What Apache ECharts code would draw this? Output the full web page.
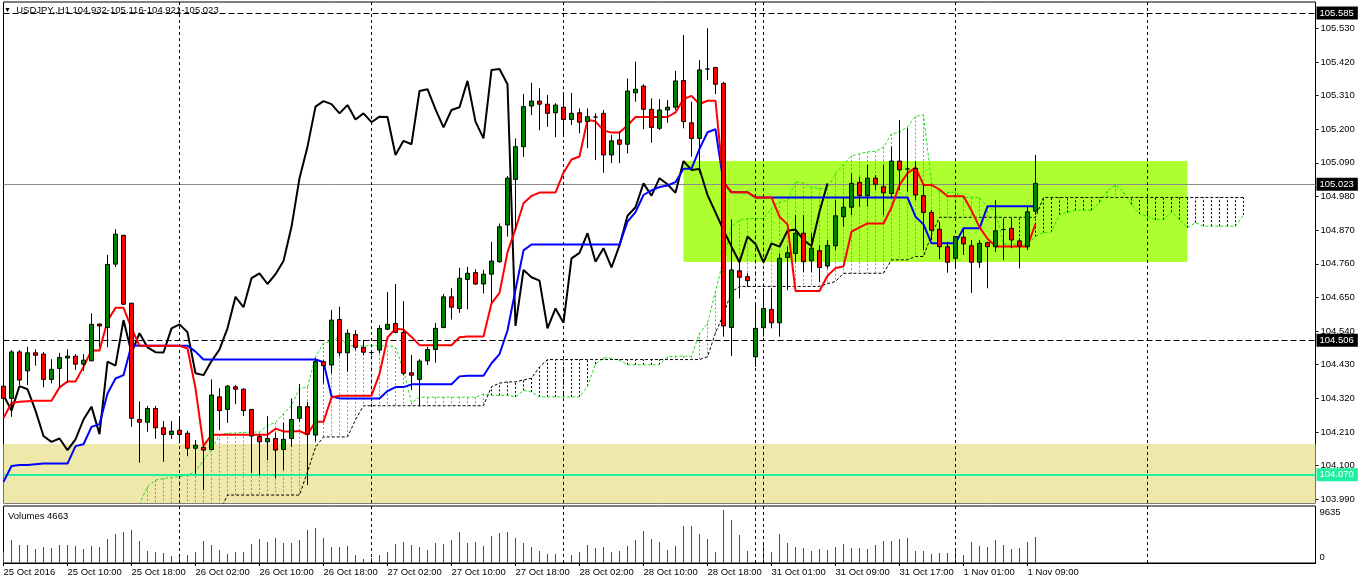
<!DOCTYPE html>
<html>
<head>
<meta charset="utf-8">
<title>USDJPY,H1</title>
<script src="https://cdn.jsdelivr.net/npm/echarts@6/dist/echarts.min.js"></script>
<style>
  html, body { margin: 0; padding: 0; background: #fff; }
  #main { width: 1358px; height: 584px; }
</style>
</head>
<body>
<div id="main"></div>
<script>
// time axis labels, one every 8 bars (H1)
var tickLabels = ['25 Oct 2016', '25 Oct 10:00', '25 Oct 18:00', '26 Oct 02:00', '26 Oct 10:00',
  '26 Oct 18:00', '27 Oct 02:00', '27 Oct 10:00', '27 Oct 18:00', '28 Oct 02:00', '28 Oct 10:00',
  '28 Oct 18:00', '31 Oct 01:00', '31 Oct 09:00', '31 Oct 17:00', '1 Nov 01:00', '1 Nov 09:00'];

var opens = [
  104.360,104.320,104.472,104.410,104.469,104.465,104.382,104.418,104.452,104.458,
  104.432,104.443,104.563,104.552,104.759,104.853,104.631,104.251,104.242,104.287,
  104.224,104.202,104.216,104.206,104.157,104.160,104.153,104.325,104.284,104.358,
  104.350,104.284,104.195,104.178,104.189,104.153,104.189,104.255,104.293,104.200,
  104.440,104.429,104.578,104.469,104.529,104.487,104.470,104.478,104.546,104.565,
  104.536,104.404,104.382,104.443,104.480,104.552,104.652,104.614,104.709,104.731,
  104.694,104.726,104.767,104.887,105.036,105.143,105.276,105.292,105.282,105.254,
  105.272,105.232,105.254,105.225,105.240,105.252,105.116,105.165,105.151,105.319,
  105.341,105.265,105.203,105.263,105.272,105.359,105.221,105.170,105.397,105.402,
  105.350,104.552,104.737,104.718,104.456,104.551,104.611,104.567,104.781,104.794,
  104.860,104.770,104.803,104.753,104.819,104.914,104.945,105.026,104.983,105.040,
  105.012,104.990,105.096,105.070,105.072,104.983,104.928,104.873,104.816,104.778,
  104.847,104.819,104.765,104.829,104.816,104.872,104.876,104.835,104.816,104.932];
var highs = [
  104.450,104.478,104.478,104.489,104.480,104.472,104.448,104.469,104.480,104.465,
  104.465,104.598,104.565,104.789,104.873,104.855,104.633,104.310,104.295,104.295,
  104.246,104.246,104.260,104.214,104.184,104.167,104.382,104.353,104.364,104.364,
  104.353,104.285,104.203,104.262,104.208,104.240,104.320,104.367,104.309,104.451,
  104.445,104.609,104.620,104.546,104.543,104.511,104.478,104.560,104.668,104.694,
  104.638,104.462,104.448,104.489,104.567,104.661,104.680,104.747,104.750,104.742,
  104.740,104.832,104.892,105.047,105.170,105.315,105.352,105.334,105.312,105.285,
  105.319,105.319,105.268,105.268,105.252,105.263,105.181,105.192,105.366,105.421,
  105.347,105.301,105.298,105.296,105.391,105.508,105.290,105.426,105.530,105.404,
  105.355,104.905,104.772,104.729,104.633,104.680,104.680,104.794,104.816,104.919,
  104.919,104.860,104.821,104.838,104.969,104.979,105.056,105.045,105.083,105.050,
  105.083,105.143,105.230,105.203,105.094,105.018,104.936,104.898,104.832,104.851,
  104.876,104.838,104.838,104.832,104.969,104.903,104.909,104.844,104.947,105.116];
var lows = [
  104.280,104.260,104.364,104.364,104.427,104.356,104.369,104.358,104.371,104.413,
  104.410,104.441,104.489,104.487,104.750,104.625,104.227,104.110,104.211,104.188,
  104.113,104.188,104.173,104.131,104.073,104.020,104.151,104.216,104.240,104.301,
  104.262,104.077,104.069,104.118,104.059,104.086,104.162,104.244,104.037,104.180,
  104.369,104.402,104.458,104.407,104.478,104.462,104.462,104.467,104.543,104.533,
  104.396,104.347,104.293,104.429,104.437,104.549,104.578,104.600,104.611,104.691,
  104.663,104.633,104.763,104.849,104.870,105.110,105.246,105.197,105.208,105.174,
  105.176,105.214,105.187,105.138,105.099,105.058,105.089,105.089,105.121,105.290,
  105.200,105.156,105.197,105.221,105.263,105.203,105.110,105.056,105.361,105.315,
  104.522,104.458,104.647,104.685,104.423,104.522,104.549,104.522,104.674,104.766,
  104.734,104.734,104.701,104.745,104.805,104.881,104.919,104.947,104.947,105.001,
  104.919,104.975,105.001,104.996,104.968,104.805,104.838,104.775,104.731,104.746,
  104.789,104.665,104.747,104.680,104.799,104.772,104.811,104.745,104.805,104.921];
var closes = [
  104.320,104.472,104.380,104.469,104.461,104.382,104.415,104.454,104.458,104.432,
  104.445,104.562,104.557,104.758,104.857,104.628,104.255,104.242,104.287,104.224,
  104.202,104.213,104.202,104.157,104.167,104.151,104.331,104.280,104.360,104.350,
  104.280,104.197,104.178,104.189,104.151,104.186,104.251,104.293,104.203,104.440,
  104.427,104.576,104.469,104.533,104.487,104.471,104.470,104.549,104.562,104.536,
  104.402,104.396,104.442,104.480,104.549,104.652,104.618,104.713,104.729,104.694,
  104.726,104.769,104.881,105.040,105.143,105.274,105.292,105.282,105.252,105.279,
  105.232,105.252,105.223,105.241,105.240,105.116,105.162,105.151,105.325,105.331,
  105.265,105.206,105.263,105.272,105.358,105.225,105.170,105.394,105.397,105.347,
  104.557,104.740,104.716,104.705,104.549,104.614,104.567,104.778,104.796,104.860,
  104.767,104.811,104.748,104.820,104.917,104.945,105.023,104.983,105.040,105.020,
  104.992,105.096,105.067,105.070,104.985,104.928,104.870,104.816,104.765,104.849,
  104.825,104.765,104.827,104.816,104.868,104.872,104.838,104.818,104.930,105.023];
var volumes = [
  1930,4090,3190,3310,2590,2830,2780,3310,3280,3130,
  2590,3130,2830,4390,5180,5540,6020,4030,2230,1930,
  1880,1320,1080,1500,2050,4030,3310,2410,1690,1930,
  1980,3490,4390,3850,4580,3550,3600,4210,6020,6260,
  4450,2830,2950,3000,1500,780,900,1500,1930,3370,
  3850,3190,2950,2410,3550,3500,4210,5540,3700,3760,
  3130,4940,5360,5660,4580,3670,2950,2230,1690,1650,
  600,1500,1930,3310,2770,2950,2050,2100,3130,4210,
  5840,4390,3850,2410,3130,6620,6740,5300,4390,2050,
  9635,7830,5120,2230,600,3850,1930,5300,3670,2950,
  2770,2230,2590,2410,2950,3490,2770,2740,2590,3310,
  4030,3990,4390,4580,2230,2190,1690,1730,1870,2770,
  1500,3850,3130,2950,4210,3310,2590,2770,3850,4663];

// Ichimoku lines as drawn on the chart
var tenkan = [
  104.256,104.305,104.309,104.311,104.312,104.312,104.312,104.356,104.375,104.375,
  104.423,104.477,104.477,104.573,104.616,104.616,104.550,104.492,104.492,104.492,
  104.492,104.492,104.492,104.483,104.353,104.165,104.201,104.201,104.201,104.201,
  104.201,104.201,104.201,104.201,104.221,104.212,104.212,104.213,104.202,104.244,
  104.244,104.323,104.329,104.329,104.329,104.329,104.329,104.400,104.519,104.548,
  104.545,104.521,104.494,104.494,104.494,104.494,104.494,104.520,104.522,104.522,
  104.522,104.631,104.665,104.798,104.874,104.958,104.982,104.993,104.993,104.993,
  105.058,105.101,105.111,105.231,105.226,105.196,105.189,105.189,105.212,105.240,
  105.240,105.240,105.240,105.240,105.255,105.299,105.309,105.282,105.293,105.293,
  105.026,104.994,104.994,104.994,104.977,104.977,104.977,104.914,104.889,104.671,
  104.671,104.671,104.671,104.721,104.746,104.751,104.865,104.879,104.892,104.892,
  104.892,104.944,105.018,105.056,105.075,105.018,105.018,105.003,104.981,104.981,
  104.981,104.934,104.880,104.842,104.817,104.817,104.817,104.817,104.817,104.891];
var kijun = [
  104.047,104.099,104.102,104.102,104.105,104.107,104.107,104.107,104.107,104.164,
  104.170,104.227,104.236,104.336,104.385,104.396,104.494,104.492,104.492,104.492,
  104.492,104.492,104.492,104.492,104.473,104.447,104.447,104.447,104.447,104.447,
  104.447,104.447,104.447,104.447,104.447,104.447,104.447,104.447,104.447,104.447,
  104.438,104.327,104.320,104.320,104.320,104.320,104.320,104.320,104.344,104.357,
  104.357,104.366,104.366,104.366,104.366,104.366,104.366,104.392,104.394,104.394,
  104.394,104.435,104.465,104.542,104.675,104.804,104.823,104.823,104.823,104.823,
  104.823,104.823,104.823,104.823,104.823,104.823,104.823,104.823,104.898,104.929,
  104.985,105.000,105.011,105.016,105.027,105.071,105.071,105.136,105.190,105.200,
  105.026,104.994,104.994,104.994,104.977,104.977,104.977,104.977,104.977,104.977,
  104.977,104.977,104.977,104.977,104.977,104.977,104.977,104.977,104.977,104.977,
  104.977,104.977,104.977,104.977,104.914,104.889,104.827,104.827,104.827,104.827,
  104.876,104.876,104.876,104.948,104.948,104.948,104.948,104.948,104.948,104.948];
var spanA = [
  null,null,null,null,null,null,null,null,null,null,
  null,null,null,null,null,null,103.930,103.975,104.031,104.053,
  104.058,104.062,104.064,104.069,104.080,104.118,104.152,104.202,104.206,104.207,
  104.209,104.210,104.210,104.232,104.241,104.270,104.297,104.352,104.357,104.455,
  104.501,104.506,104.522,104.492,104.492,104.492,104.492,104.492,104.492,104.488,
  104.413,104.306,104.324,104.324,104.324,104.324,104.324,104.324,104.324,104.324,
  104.334,104.330,104.330,104.330,104.325,104.346,104.341,104.325,104.325,104.325,
  104.325,104.325,104.325,104.360,104.432,104.453,104.451,104.444,104.430,104.430,
  104.430,104.430,104.430,104.456,104.458,104.458,104.458,104.533,104.565,104.670,
  104.775,104.881,104.903,104.908,104.908,104.908,104.941,104.962,104.967,105.027,
  105.025,105.010,105.006,105.006,105.055,105.085,105.113,105.120,105.126,105.128,
  105.141,105.185,105.190,105.209,105.242,105.247,105.026,104.994,104.994,104.994,
  104.977,104.977,104.977,104.946,104.933,104.824,104.824,104.824,104.824,104.849,
  104.862,104.864,104.921,104.928,104.935,104.935,104.935,104.961,104.998,105.017,
  104.995,104.954,104.923,104.915,104.904,104.904,104.929,104.905,104.878,104.895,
  104.883,104.883,104.883,104.883,104.883,104.920];
var spanB = [
  null,null,null,null,null,null,null,null,null,null,
  null,null,null,null,null,null,103.950,103.950,103.950,103.950,
  103.950,103.950,103.950,103.950,103.950,103.950,103.950,103.950,104.004,104.004,
  104.004,104.004,104.004,104.004,104.004,104.004,104.004,104.004,104.080,104.160,
  104.194,104.194,104.194,104.194,104.250,104.296,104.296,104.296,104.296,104.296,
  104.296,104.296,104.296,104.296,104.296,104.296,104.296,104.296,104.296,104.296,
  104.296,104.358,104.370,104.374,104.374,104.380,104.386,104.423,104.447,104.447,
  104.447,104.447,104.447,104.447,104.447,104.447,104.447,104.447,104.447,104.447,
  104.447,104.447,104.447,104.447,104.447,104.447,104.447,104.447,104.456,104.534,
  104.595,104.668,104.686,104.686,104.686,104.686,104.686,104.686,104.686,104.686,
  104.686,104.686,104.686,104.695,104.702,104.729,104.729,104.729,104.729,104.729,
  104.729,104.773,104.773,104.773,104.784,104.784,104.855,104.912,104.912,104.912,
  104.912,104.912,104.912,104.912,104.912,104.912,104.912,104.912,104.912,104.912,
  104.977,104.977,104.977,104.977,104.977,104.977,104.977,104.977,104.977,104.977,
  104.977,104.977,104.977,104.977,104.977,104.977,104.977,104.977,104.977,104.977,
  104.977,104.977,104.977,104.977,104.977,104.977];

// horizontal levels and zones
var levelPrices = [105.585, 105.023, 104.506, 104.070];
var greenZone = { fromBar: 85, toBar: 148, top: 105.096, bottom: 104.766 };
var supportZoneTop = 104.171;
var dayStarts = [22, 46, 70, 94, 95, 119, 143];
var lastBar = { o: '104.932', h: '105.116', l: '104.921', c: '105.023' };

var priceMin = 103.978, priceMax = 105.616;
var FONT = 'Liberation Sans';
var slotCount = 165;   // bars + cloud projection + right margin
var slots = [];
for (var s = 0; s < slotCount; s++) slots.push(String(s));

var candles = opens.map(function (o, i) { return [o, closes[i], lows[i], highs[i]]; });
var chikou = closes.slice(26);   // close shifted 26 bars back
var hatch = [];
spanA.forEach(function (a, i) {
  if (a != null && spanB[i] != null) hatch.push([i, a, spanB[i]]);
});
// volume colour: green when volume rose versus the previous bar
var volData = volumes.map(function (v, i) {
  return [i, v, (i > 0 && v > volumes[i - 1]) ? 1 : 0];
});

function tagFor(p) {
  var green = p === 104.070;
  return {
    yAxis: p,
    lineStyle: green ? { color: '#1ef0a0', width: 2, type: 'solid' }
      : (p === 105.023 ? { color: '#8c8c8c', width: 1, type: 'solid' }
        : { color: '#000', width: 1, type: [6, 3] }),
    label: {
      show: true, position: 'end', distance: 1, formatter: p.toFixed(3),
      color: '#fff', backgroundColor: green ? '#1ef0a0' : '#000',
      padding: [2, 4, 1, 3], fontFamily: FONT, fontSize: 9.5
    }
  };
}
var dayLines = dayStarts.map(function (k) {
  return { xAxis: String(k), lineStyle: { color: '#000', width: 1, type: [3, 3] }, label: { show: false } };
});

var GL = 3.5;   // half-pixel offset keeps 1px marks crisp
var option = {
  animation: false,
  backgroundColor: '#fff',
  textStyle: { fontFamily: FONT },
  title: [
    {
      text: '{i|▼}  USDJPY,,H1 ' + lastBar.o + '-' + lastBar.h + '-' + lastBar.l + '-' + lastBar.c,
      left: 4, top: 5, padding: 0,
      textStyle: { fontSize: 9.5, fontWeight: 'normal', color: '#000', fontFamily: FONT,
        rich: { i: { fontSize: 7, color: '#000' } } }
    },
    {
      text: 'Volumes ' + volumes[volumes.length - 1],
      left: 8, top: 511, padding: 0,
      textStyle: { fontSize: 9.5, fontWeight: 'normal', color: '#000', fontFamily: FONT }
    }
  ],
  grid: [
    { left: GL, width: 1312, top: 2, height: 501, show: true, borderColor: '#000', borderWidth: 1,
      backgroundColor: '#fff', outerBoundsMode: 'none' },
    { left: GL, width: 1312, top: 506, height: 57, show: true, borderColor: '#000', borderWidth: 1,
      backgroundColor: '#fff', outerBoundsMode: 'none' },
    { left: GL, width: 1312, top: 28.3, height: 471, show: false, outerBoundsMode: 'none' }
  ],
  xAxis: [
    { type: 'category', gridIndex: 0, data: slots, boundaryGap: false, show: false },
    {
      type: 'category', gridIndex: 1, data: slots, boundaryGap: false,
      axisLine: { show: true, lineStyle: { color: '#000', width: 1 } },
      axisTick: { show: true, length: 3, lineStyle: { color: '#000' },
        interval: function (i) { return i % 8 === 0 && i / 8 < tickLabels.length; } },
      axisLabel: {
        show: true, align: 'left', margin: 4, color: '#000', fontSize: 9.5, fontFamily: FONT,
        interval: function (i) { return i % 8 === 0 && i / 8 < tickLabels.length; },
        formatter: function (v, i) { return (i % 8 === 0 && i / 8 < tickLabels.length) ? tickLabels[i / 8] : ''; }
      },
      splitLine: { show: false }
    },
    { type: 'category', gridIndex: 2, data: slots, boundaryGap: false, show: false }
  ],
  yAxis: [
    { type: 'value', gridIndex: 0, min: priceMin, max: priceMax, show: false, splitLine: { show: false } },
    {
      type: 'value', gridIndex: 1, min: 0, max: 10300, interval: 9635, position: 'right',
      axisLine: { show: false }, axisTick: { show: false }, splitLine: { show: false },
      axisLabel: {
        show: true, margin: 4, color: '#000', fontSize: 9.5, fontFamily: FONT,
        formatter: function (v) {
          if (v === 9635) return '{t|9635}';
          if (v === 0) return '{b|0}';
          return '';
        },
        rich: {
          t: { fontSize: 9.5, fontFamily: FONT, color: '#000', padding: [6, 0, 0, 0] },
          b: { fontSize: 9.5, fontFamily: FONT, color: '#000', padding: [0, 0, 12, 0] }
        }
      }
    },
    {
      type: 'value', gridIndex: 2, min: 103.99, max: 105.53, interval: 0.11, position: 'right',
      axisLine: { show: false },
      axisTick: { show: true, length: 3, lineStyle: { color: '#000' } },
      splitLine: { show: false },
      axisLabel: { show: true, margin: 5, color: '#000', fontSize: 9.5, fontFamily: FONT,
        formatter: function (v) { return v.toFixed(3); } }
    }
  ],
  series: [
    {
      name: 'zones', type: 'line', xAxisIndex: 0, yAxisIndex: 0, data: [], z: 1, silent: true,
      markArea: {
        silent: true,
        data: [
          [{ yAxis: supportZoneTop, itemStyle: { color: '#eee8aa' } }, { yAxis: priceMin }],
          [{ xAxis: String(greenZone.fromBar), yAxis: greenZone.top, itemStyle: { color: '#adff2f' } },
           { xAxis: String(greenZone.toBar), yAxis: greenZone.bottom }]
        ]
      }
    },
    {
      name: 'kumo', type: 'custom', xAxisIndex: 0, yAxisIndex: 0, z: 2, clip: true, silent: true,
      data: hatch, encode: { x: 0, y: [1, 2] },
      renderItem: function (params, api) {
        var a = api.value(1), b = api.value(2);
        var p1 = api.coord([api.value(0), a]);
        var p2 = api.coord([api.value(0), b]);
        return {
          type: 'line',
          shape: { x1: p1[0], y1: p1[1], x2: p2[0], y2: p2[1] },
          style: { stroke: a >= b ? '#2ad82a' : '#000', lineWidth: 1, lineDash: [2, 2] }
        };
      }
    },
    {
      name: 'Senkou A', type: 'line', xAxisIndex: 0, yAxisIndex: 0, data: spanA, z: 3,
      showSymbol: false, symbol: 'none', connectNulls: false, silent: true,
      lineStyle: { color: '#1fe01f', width: 1, type: [3, 2] }
    },
    {
      name: 'Senkou B', type: 'line', xAxisIndex: 0, yAxisIndex: 0, data: spanB, z: 3,
      showSymbol: false, symbol: 'none', connectNulls: false, silent: true,
      lineStyle: { color: '#000', width: 1, type: [3, 2] }
    },
    {
      name: 'levels', type: 'line', xAxisIndex: 0, yAxisIndex: 0, data: [], z: 4, silent: true,
      markLine: { symbol: 'none', silent: true, animation: false,
        data: levelPrices.map(tagFor).concat(dayLines) }
    },
    {
      name: 'Chikou', type: 'line', xAxisIndex: 0, yAxisIndex: 0, data: chikou, z: 5,
      showSymbol: false, symbol: 'none', silent: true, lineStyle: { color: '#000', width: 2 }
    },
    {
      name: 'Kijun', type: 'line', xAxisIndex: 0, yAxisIndex: 0, data: kijun, z: 5,
      showSymbol: false, symbol: 'none', silent: true, lineStyle: { color: '#0000ff', width: 2 }
    },
    {
      name: 'Tenkan', type: 'line', xAxisIndex: 0, yAxisIndex: 0, data: tenkan, z: 5,
      showSymbol: false, symbol: 'none', silent: true, lineStyle: { color: '#ff0000', width: 2 }
    },
    {
      name: 'USDJPY', type: 'candlestick', xAxisIndex: 0, yAxisIndex: 0, data: candles, z: 6,
      barWidth: 5, clip: true, silent: true,
      itemStyle: { color: '#008000', color0: '#ff0000', borderColor: '#000', borderColor0: '#000',
        borderColorDoji: '#000', borderWidth: 1 }
    },
    {
      name: 'Volumes', type: 'custom', xAxisIndex: 1, yAxisIndex: 1, data: volData, z: 3,
      silent: true, clip: true, encode: { x: 0, y: 1 },
      renderItem: function (params, api) {
        var top = api.coord([api.value(0), api.value(1)]);
        var base = api.coord([api.value(0), 0]);
        return {
          type: 'rect',
          shape: { x: Math.floor(top[0]), y: Math.round(top[1]), width: 1,
            height: Math.round(base[1]) - Math.round(top[1]) },
          style: { fill: api.value(2) ? '#008000' : '#ff0000' }
        };
      },
      markLine: { symbol: 'none', silent: true, animation: false, data: dayLines }
    }
  ]
};

var chart = echarts.init(document.getElementById('main'));
chart.setOption(option);
</script>
</body>
</html>
